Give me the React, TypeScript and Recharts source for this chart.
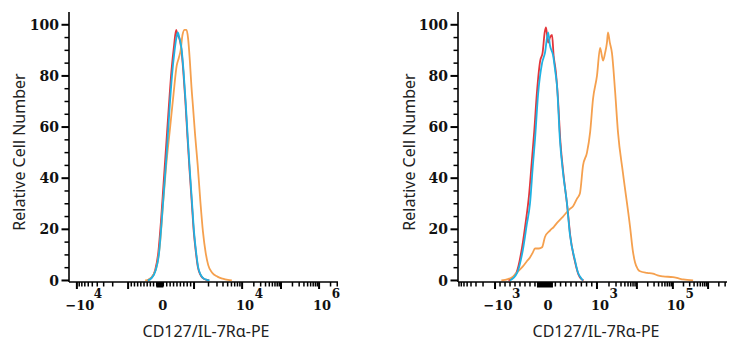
import React from 'react';
import { LineChart, Line, XAxis, YAxis } from 'recharts';

// x values are display channels (0-1024) on the biexponential axis, y is % of max
const leftRed: [number, number][] = [
  [298, 0], [313, 1], [328, 4], [340, 11], [350, 23], [360, 38], [370, 53], [380, 68], [390, 82],
  [400, 92], [408, 98], [413, 96], [419, 95], [427, 91], [435, 82], [443, 70], [451, 56], [459, 43],
  [467, 31], [475, 19], [483, 11], [491, 5], [499, 2.5], [509, 1], [521, 0.3], [533, 0],
];
const leftOrange: [number, number][] = [
  [290, 0], [305, 0.5], [320, 2], [335, 6], [347, 15], [358, 30], [370, 45], [385, 60], [398, 73],
  [410, 84], [418, 87], [425, 90], [432, 96], [440, 98], [447, 98], [453, 95], [460, 86], [466, 76],
  [472, 68], [480, 57], [490, 45], [500, 31], [510, 19], [520, 11], [530, 6], [545, 3], [565, 1.5],
  [585, 0.7], [605, 0.2], [620, 0],
];
const leftBlue: [number, number][] = [
  [300, 0], [315, 1], [330, 4], [342, 10], [352, 22], [362, 36], [372, 50], [382, 66], [392, 80],
  [402, 90], [409, 95], [414, 97], [420, 95], [428, 91], [436, 82], [444, 70], [452, 56], [460, 43],
  [468, 31], [476, 19], [484, 11], [492, 5], [500, 2.5], [510, 1], [522, 0.3], [535, 0],
];

const rightRed: [number, number][] = [
  [192, 0], [222, 3], [244, 13], [258, 23], [270, 33], [282, 48], [290, 58], [300, 73], [313, 86],
  [322, 89], [330, 97], [335, 99], [343, 93], [350, 95], [358, 96], [364, 88], [372, 82], [380, 72],
  [390, 54], [402, 41], [416, 29], [428, 17], [446, 7], [458, 2.5], [470, 0.5], [478, 0],
];
const rightOrange: [number, number][] = [
  [165, 0], [190, 0.5], [209, 1.5], [228, 3.5], [247, 5.5], [262, 7.5], [274, 9], [285, 11],
  [293, 12.5], [308, 12.5], [320, 13], [331, 17], [350, 19.5], [365, 21], [377, 22.5], [400, 25],
  [426, 28], [438, 29], [453, 32], [464, 34], [476, 45], [491, 50], [503, 58], [514, 71], [529, 80],
  [541, 91], [552, 86], [560, 89], [567, 93], [571, 97], [578, 93], [586, 89], [598, 74], [609, 58],
  [628, 42], [655, 21], [665, 12], [674, 7], [684, 4.5], [693, 3.6], [720, 3], [742, 2.7], [760, 2],
  [780, 1.6], [818, 1.3], [840, 0.8], [857, 0.4], [895, 0],
];
const rightBlue: [number, number][] = [
  [198, 0], [225, 3], [247, 12], [262, 22], [274, 30], [285, 45], [293, 55], [305, 73], [320, 85],
  [331, 89], [343, 97], [350, 92], [362, 88], [370, 82], [377, 76], [388, 55], [400, 42], [415, 30],
  [426, 18], [445, 8], [457, 3], [468, 1], [476, 0],
];

// axis decades and where they sit in channels
const leftDecades = [-1e5, -1e4, -1e3, 0, 1e3, 1e4, 1e5, 1e6, 1e7];
const leftDecadeChannels = [-165, 30, 225, 346, 476, 659, 807, 952, 1097];
const leftLabels: Record<string, [string, string]> = {
  '-10000': ['\u221210', '4'], '0': ['0', ''], '10000': ['10', '4'], '1000000': ['10', '6'],
};

const rightDecades = [-1e4, -1e3, 0, 1e3, 1e4, 1e5, 1e6, 1e7];
const rightDecadeChannels = [-11, 141, 331, 529, 681, 818, 952, 1088];
const rightLabels: Record<string, [string, string]> = {
  '-1000': ['\u221210', '3'], '0': ['0', ''], '1000': ['10', '3'], '100000': ['10', '5'],
};

const yTicks = [0, 5, 10, 15, 20, 25, 30, 35, 40, 45, 50, 55, 60, 65, 70, 75, 80, 85, 90, 95, 100];

const X_TITLE = 'CD127/IL-7Rα-PE';
const Y_TITLE = 'Relative Cell Number';

const RED = '#e3353a';
const ORANGE = '#f5a04e';
const BLUE = '#1fb2e3';
const TICK_FONT = 'DejaVu Serif';
const TEXT_FONT = '"Noto Sans", sans-serif';

type TickInfo = { c: number; kind: 'major' | 'minor' | 'zero'; base?: string; sup?: string };

function toChannel(v: number, vals: number[], chans: number[]) {
  for (let i = 0; i < vals.length - 1; i++) {
    const a = vals[i];
    const b = vals[i + 1];
    if (v >= a && v <= b) {
      if (a === 0 || b === 0) {
        return chans[i] + ((v - a) / (b - a)) * (chans[i + 1] - chans[i]);
      }
      const t = (Math.log10(Math.abs(v)) - Math.log10(Math.abs(a))) /
        (Math.log10(Math.abs(b)) - Math.log10(Math.abs(a)));
      return chans[i] + t * (chans[i + 1] - chans[i]);
    }
  }
  return -1;
}

function buildTicks(vals: number[], chans: number[], labels: Record<string, [string, string]>) {
  const out: TickInfo[] = [];
  const push = (v: number, kind: TickInfo['kind']) => {
    const c = toChannel(v, vals, chans);
    if (c < 0 || c > 1024) return;
    const lab = labels[String(v)];
    out.push({ c, kind, base: lab ? lab[0] : undefined, sup: lab ? lab[1] : undefined });
  };
  push(0, 'zero');
  for (let n = 3; n <= 6; n++) {
    for (let k = 1; k <= 9; k++) {
      const v = k * Math.pow(10, n);
      push(v, k === 1 ? 'major' : 'minor');
      push(-v, k === 1 ? 'major' : 'minor');
    }
  }
  for (let k = 1; k <= 9; k++) {
    push(k * 100, 'minor');
    push(-k * 100, 'minor');
  }
  return out.sort((p, q) => p.c - q.c);
}

const leftTicks = buildTicks(leftDecades, leftDecadeChannels, leftLabels);
const rightTicks = buildTicks(rightDecades, rightDecadeChannels, rightLabels);

const toPoints = (d: [number, number][]) => d.map(([x, y]) => ({ x, y }));

const XTick = (props: any) => {
  const { x, y, payload, info, blockHalf } = props;
  let t: TickInfo | undefined;
  let best = Infinity;
  for (const i of info as TickInfo[]) {
    const d = Math.abs(i.c - payload.value);
    if (d < best) { best = d; t = i; }
  }
  if (!t || best > 0.01) return null;
  return (
    <g>
      {t.kind === 'zero' ? (
        <rect x={x - blockHalf} y={y} width={blockHalf * 2} height={5.5} fill="#000" />
      ) : (
        <rect x={x - (t.kind === 'major' ? 1 : 0.75)} y={y} width={t.kind === 'major' ? 2 : 1.5}
          height={t.kind === 'major' ? 7 : 4.5} fill="#000" />
      )}
      {t.base !== undefined && (
        <g fontFamily={TICK_FONT} fontWeight="bold" fill="#111">
          <text x={x + 3} y={y + 28} fontSize={13} textAnchor="middle">{t.base}</text>
          {t.sup && (
            <text x={x + 3 + t.base.length * 4.3 + 1} y={y + 16} fontSize={12}>{t.sup}</text>
          )}
        </g>
      )}
    </g>
  );
};

const YTick = (props: any) => {
  const { x, y, payload } = props;
  const major = payload.value % 20 === 0;
  return (
    <g>
      <rect x={x - (major ? 7.5 : 4.5)} y={y - (major ? 1 : 0.75)} width={major ? 7.5 : 4.5}
        height={major ? 2 : 1.5} fill="#000" />
      {major && (
        <text x={x - 10} y={y} dy="0.36em" textAnchor="end" fontFamily={TICK_FONT} fontWeight="bold"
          fontSize={14} fill="#111">{payload.value}</text>
      )}
    </g>
  );
};

type PanelProps = {
  width: number;
  yAxisWidth: number;
  marginRight: number;
  red: [number, number][];
  orange: [number, number][];
  blue: [number, number][];
  ticks: TickInfo[];
  blockHalf: number;
};

const Panel: React.FC<PanelProps> = ({ width, yAxisWidth, marginRight, red, orange, blue, ticks, blockHalf }) => {
  return (
    <LineChart width={width} height={350} margin={{ top: 12, right: marginRight, bottom: 0, left: 0 }}>
      <XAxis
        dataKey="x"
        type="number"
        domain={[0, 1024]}
        allowDataOverflow
        ticks={ticks.map((t) => t.c)}
        interval={0}
        minTickGap={0}
        tickSize={0}
        tickMargin={0}
        tickLine={false}
        height={68}
        axisLine={{ stroke: '#000', strokeWidth: 1.6 }}
        tick={(p: any) => <XTick {...p} info={ticks} blockHalf={blockHalf} />}
      />
      <XAxis xAxisId="top" orientation="top" type="number" domain={[0, 1024]} height={0}
        tick={false} tickLine={false} axisLine={{ stroke: '#444', strokeWidth: 1 }} />
      <YAxis
        type="number"
        domain={[-0.6, 105]}
        allowDataOverflow
        ticks={yTicks}
        interval={0}
        tickSize={0}
        tickMargin={0}
        tickLine={false}
        width={yAxisWidth}
        axisLine={{ stroke: '#000', strokeWidth: 1.6 }}
        tick={(p: any) => <YTick {...p} />}
      />
      <YAxis yAxisId="right" orientation="right" type="number" domain={[0, 100]} width={0}
        tick={false} tickLine={false} axisLine={{ stroke: '#444', strokeWidth: 1 }} />
      <Line data={toPoints(red)} dataKey="y" type="monotone" dot={false} stroke={RED} strokeWidth={1.8} isAnimationActive={false} />
      <Line data={toPoints(orange)} dataKey="y" type="monotone" dot={false} stroke={ORANGE} strokeWidth={1.8} isAnimationActive={false} />
      <Line data={toPoints(blue)} dataKey="y" type="monotone" dot={false} stroke={BLUE} strokeWidth={1.8} isAnimationActive={false} />
    </LineChart>
  );
};

// axis titles drawn on an overlay so they sit exactly where the reference has them
const Titles = () => (
  <svg width={739} height={350} style={{ position: 'absolute', left: 0, top: 0, pointerEvents: 'none' }}>
    <g fontFamily={TEXT_FONT} fontSize={16} fill="#222" textAnchor="middle">
      <text x={206} y={337}>{X_TITLE}</text>
      <text x={596} y={337}>{X_TITLE}</text>
      <text x={19} y={152} transform="rotate(-90 19 152)" dominantBaseline="central">{Y_TITLE}</text>
      <text x={409} y={152} transform="rotate(-90 409 152)" dominantBaseline="central">{Y_TITLE}</text>
    </g>
  </svg>
);

export default function App() {
  return (
    <div style={{ position: 'absolute', left: 0, top: 0, width: 739, height: 350, background: '#fff' }}>
      <div style={{ position: 'absolute', left: 0, top: 0 }}>
        <Panel width={370} yAxisWidth={69} marginRight={32} red={leftRed} orange={leftOrange} blue={leftBlue}
          ticks={leftTicks} blockHalf={3.5} />
      </div>
      <div style={{ position: 'absolute', left: 370, top: 0 }}>
        <Panel width={369} yAxisWidth={88} marginRight={12} red={rightRed} orange={rightOrange} blue={rightBlue}
          ticks={rightTicks} blockHalf={8} />
      </div>
      <Titles />
    </div>
  );
}
